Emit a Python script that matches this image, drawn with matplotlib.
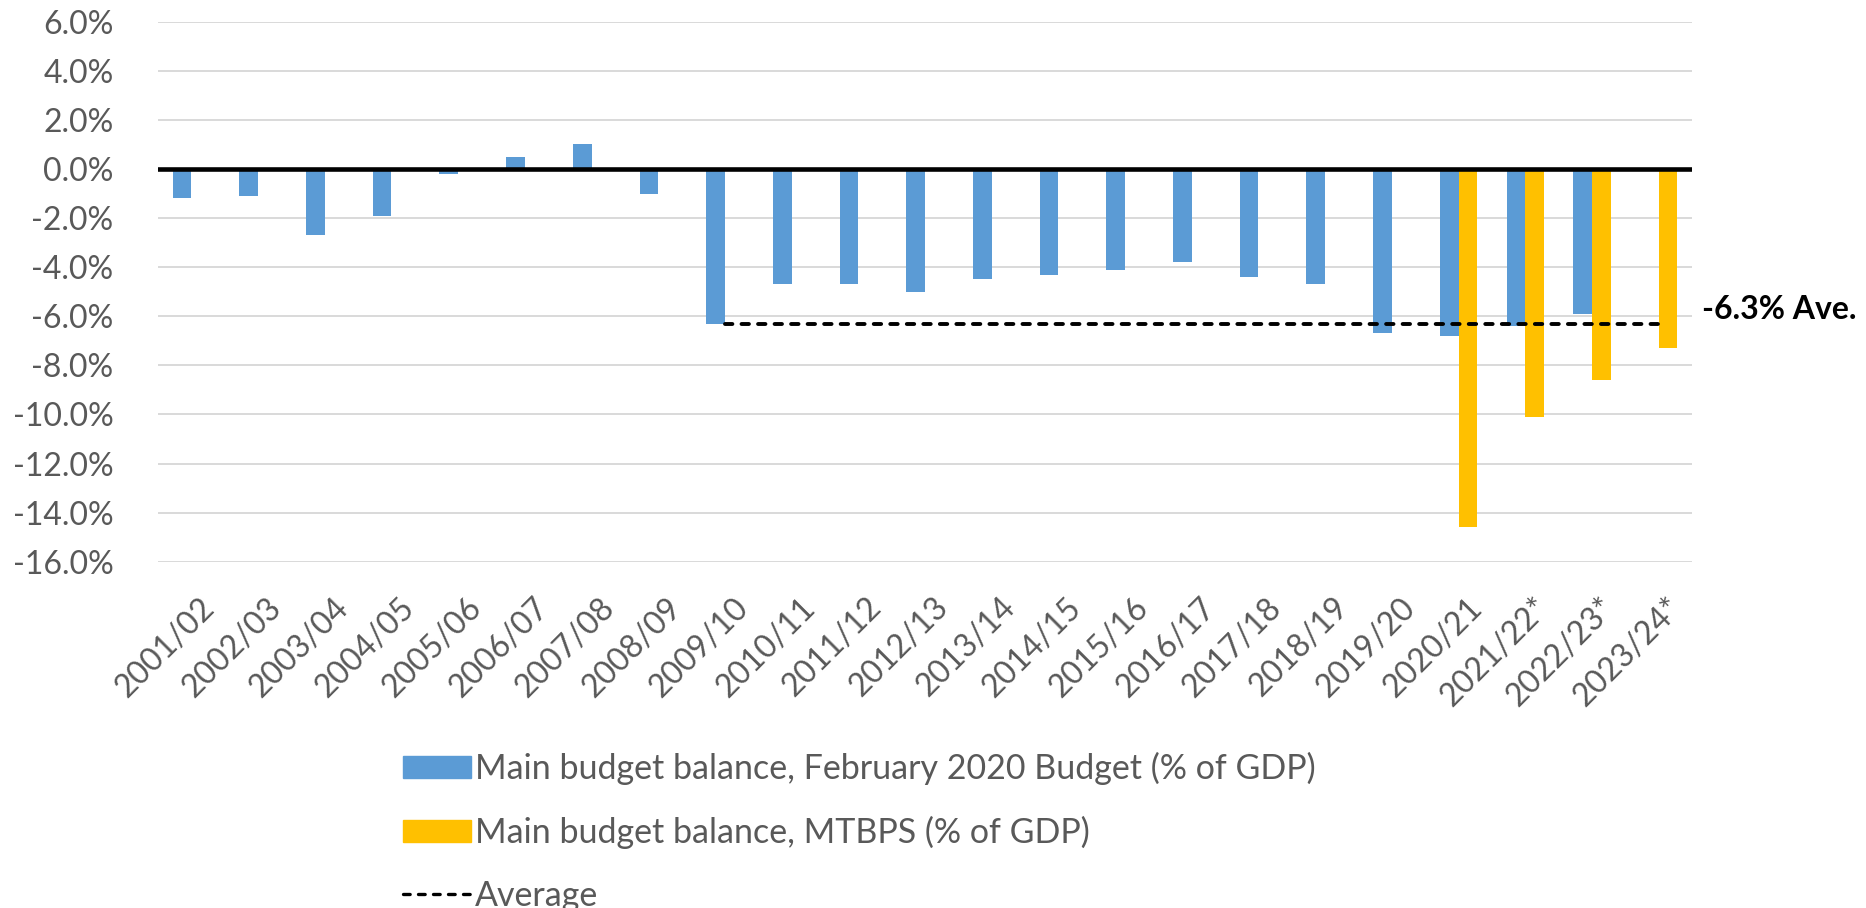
import numpy as np
import matplotlib.pyplot as plt
import matplotlib.transforms as mtransforms
from matplotlib.patches import Patch
from matplotlib.lines import Line2D

plt.rcParams['font.family'] = ['Lato', 'DejaVu Sans']

years = ['2001/02', '2002/03', '2003/04', '2004/05', '2005/06', '2006/07',
         '2007/08', '2008/09', '2009/10', '2010/11', '2011/12', '2012/13',
         '2013/14', '2014/15', '2015/16', '2016/17', '2017/18', '2018/19',
         '2019/20', '2020/21', '2021/22*', '2022/23*', '2023/24*']

# main budget balance, % of GDP
feb_budget = [-1.2, -1.1, -2.7, -1.9, -0.2, 0.5, 1.0, -1.0, -6.3, -4.7, -4.7,
              -5.0, -4.5, -4.3, -4.1, -3.8, -4.4, -4.7, -6.7, -6.8, -6.4, -5.9,
              np.nan]
mtbps = [np.nan] * 19 + [-14.6, -10.1, -8.6, -7.3]
average = [np.nan] * 8 + [-6.3] * 15

blue = '#5B9BD5'
gold = '#FFC000'
grey_text = '#595959'

W, H = 1866, 908
fig = plt.figure(figsize=(W / 100, H / 100), dpi=100)
ax = fig.add_axes([158 / W, 1 - 561.7 / H, 1534 / W, 540 / H])

x = np.arange(len(years))
bw = 0.28
ax.bar(x - bw / 2, feb_budget, width=bw, color=blue, zorder=2)
ax.bar(x + bw / 2, mtbps, width=bw, color=gold, zorder=2)
ax.axhline(0, color='black', lw=3.3, zorder=3)
ax.plot(x, average, color='black', lw=2.8, dashes=(1.9, 2.35),
        dash_capstyle='round', zorder=4)

ax.annotate('-6.3% Ave.', xy=(1.0, -6.3), xycoords=('axes fraction', 'data'),
            xytext=(7, 3), textcoords='offset points', ha='left', va='baseline',
            fontsize=23, fontweight='bold', color='black', annotation_clip=False)

ax.set_xlim(-0.5, len(years) - 0.5)
ax.set_ylim(-16, 6)
ax.set_yticks(np.arange(-16, 7, 2))
ax.set_yticklabels([f'{v:.1f}%' for v in np.arange(-16, 7, 2)])
ax.set_xticks(x)
ax.set_xticklabels(years, rotation=45, ha='right', rotation_mode='anchor')
ax.tick_params(axis='y', length=0, pad=32, labelsize=23, labelcolor=grey_text)
ax.tick_params(axis='x', length=0, pad=22, labelsize=23, labelcolor=grey_text)

# nudge the slanted year labels a little to the right
shift = mtransforms.ScaledTranslation(8 / 100, 0, fig.dpi_scale_trans)
for lbl in ax.get_xticklabels():
    lbl.set_transform(lbl.get_transform() + shift)

ax.grid(axis='y', color='#d9d9d9', lw=1.4, zorder=0)
ax.set_axisbelow(True)
for s in ax.spines.values():
    s.set_visible(False)

handles = [
    Patch(color=blue),
    Patch(color=gold),
    Line2D([], [], color='black', lw=2.4, dashes=(2.0, 2.5), dash_capstyle='round'),
]
labels = ['Main budget balance, February 2020 Budget (% of GDP)',
          'Main budget balance, MTBPS (% of GDP)',
          'Average']
fig.legend(handles, labels, loc='upper left', bbox_to_anchor=(403 / W, 1 - 752 / H),
           frameon=False, fontsize=24.5, labelcolor=grey_text, borderpad=0,
           handlelength=2.0, handleheight=0.62, handletextpad=0.12,
           labelspacing=0.9, borderaxespad=0)

fig.savefig('out.png', dpi=100)
